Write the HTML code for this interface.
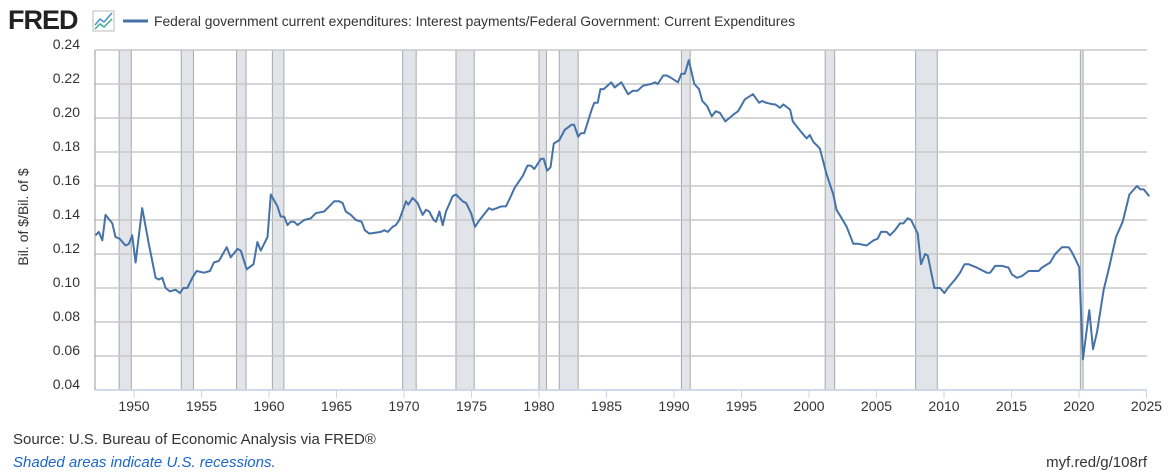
<!DOCTYPE html>
<html><head><meta charset="utf-8">
<style>
body{margin:0;background:#fff;width:1168px;height:473px;overflow:hidden;font-family:"Liberation Sans",sans-serif;}
svg{display:block}
</style></head>
<body>
<svg width="1168" height="473" xmlns="http://www.w3.org/2000/svg">
<g>
<text x="8" y="29" font-size="27" font-weight="bold" fill="#222" font-family="Liberation Sans, sans-serif" letter-spacing="-1">FRED</text>
<rect x="93" y="11" width="21" height="20" fill="#fff" stroke="#bbb" stroke-width="1"/>
<polyline points="95,25 100,19 104,22 112,13" fill="none" stroke="#4a90d9" stroke-width="1.5"/>
<polyline points="95,29 100,24 104,27 112,19" fill="none" stroke="#3bb08f" stroke-width="1.5"/>
</g>
<g>
<line x1="123" y1="21" x2="148" y2="21" stroke="#4572a7" stroke-width="3"/>
<text x="154" y="26" font-size="14" fill="#333" textLength="641" lengthAdjust="spacingAndGlyphs">Federal government current expenditures: Interest payments/Federal Government: Current Expenditures</text>
</g>
<g id="recessions"></g>
<g id="grid"></g>
<g id="yticks"></g>
<g id="xticks"></g>
<text x="28" y="217" font-size="14" fill="#333" text-anchor="middle" transform="rotate(-90 28 217)">Bil. of $/Bil. of $</text>
<path id="series" fill="none" stroke="#4572a7" stroke-width="2" stroke-linejoin="round"/>
<text x="13" y="444" font-size="15" fill="#333">Source: U.S. Bureau of Economic Analysis via FRED®</text>
<text x="13" y="467" font-size="15" fill="#1a66cc" font-style="italic">Shaded areas indicate U.S. recessions.</text>
<text x="1147" y="467" font-size="15" fill="#333" text-anchor="end">myf.red/g/108rf</text>
</svg>
<script>
const years=[1947.15,1947.39,1947.65,1947.89,1948.39,1948.63,1948.93,1949.37,1949.62,1949.87,1950.12,1950.61,1951.1,1951.6,1951.84,1952.1,1952.34,1952.66,1953.08,1953.4,1953.65,1953.95,1954.32,1954.64,1955.18,1955.63,1955.92,1956.3,1956.87,1957.16,1957.66,1957.91,1958.35,1958.85,1959.14,1959.39,1959.89,1960.13,1960.63,1960.87,1961.12,1961.37,1961.61,1961.86,1962.11,1962.6,1963.1,1963.47,1964.08,1964.46,1964.83,1965.2,1965.45,1965.69,1966.07,1966.44,1966.86,1967.1,1967.42,1968.29,1968.54,1968.79,1969.16,1969.4,1969.65,1970.15,1970.32,1970.64,1971.01,1971.38,1971.63,1971.87,1972.2,1972.37,1972.62,1972.87,1973.11,1973.61,1973.85,1974.35,1974.6,1974.97,1975.26,1975.6,1976.3,1976.55,1977.2,1977.55,1977.8,1978.2,1978.8,1979.15,1979.4,1979.65,1980.15,1980.35,1980.6,1980.85,1981.1,1981.5,1981.9,1982.4,1982.6,1982.9,1983.1,1983.35,1983.55,1983.9,1984.1,1984.35,1984.55,1984.8,1985.35,1985.6,1986.1,1986.6,1986.95,1987.3,1987.7,1988.3,1988.6,1988.8,1989.2,1989.45,1989.7,1990.3,1990.55,1990.8,1991.1,1991.5,1991.85,1992.1,1992.45,1992.8,1993.1,1993.4,1993.8,1994.4,1994.75,1995.25,1995.85,1996.3,1996.55,1996.8,1997.35,1997.5,1997.85,1998.1,1998.6,1998.8,1999.1,1999.4,1999.82,2000.06,2000.32,2000.81,2001.3,2001.8,2002.04,2002.42,2002.79,2003.28,2003.65,2004.27,2004.77,2005.09,2005.33,2005.75,2006.0,2006.37,2006.74,2006.99,2007.31,2007.56,2007.81,2008.05,2008.3,2008.6,2008.8,2009.29,2009.71,2010.03,2010.28,2010.82,2011.19,2011.52,2011.81,2012.43,2013.17,2013.42,2013.79,2014.28,2014.78,2015.03,2015.4,2015.77,2016.27,2017.01,2017.25,2017.87,2018.24,2018.74,2019.23,2019.48,2019.85,2020.02,2020.29,2020.76,2021.04,2021.33,2021.83,2022.2,2022.74,2023.24,2023.73,2024.3,2024.55,2024.8,2025.2];
const values=[0.131,0.133,0.128,0.143,0.138,0.130,0.129,0.125,0.126,0.131,0.115,0.147,0.126,0.106,0.105,0.106,0.100,0.098,0.099,0.097,0.100,0.100,0.106,0.110,0.109,0.110,0.115,0.116,0.124,0.118,0.123,0.122,0.111,0.114,0.127,0.122,0.130,0.155,0.148,0.142,0.142,0.137,0.139,0.139,0.137,0.140,0.141,0.144,0.145,0.148,0.151,0.151,0.150,0.145,0.143,0.140,0.139,0.134,0.132,0.133,0.134,0.133,0.136,0.137,0.140,0.151,0.149,0.153,0.150,0.143,0.146,0.145,0.140,0.139,0.145,0.137,0.145,0.154,0.155,0.151,0.150,0.144,0.136,0.140,0.147,0.146,0.148,0.148,0.152,0.159,0.166,0.172,0.172,0.170,0.176,0.176,0.169,0.171,0.185,0.187,0.193,0.196,0.196,0.189,0.191,0.191,0.196,0.205,0.209,0.209,0.217,0.217,0.221,0.218,0.221,0.214,0.216,0.216,0.219,0.220,0.221,0.220,0.225,0.225,0.224,0.221,0.226,0.226,0.234,0.220,0.217,0.210,0.207,0.201,0.204,0.203,0.198,0.202,0.204,0.211,0.214,0.209,0.210,0.209,0.208,0.208,0.206,0.208,0.205,0.198,0.195,0.192,0.188,0.190,0.186,0.182,0.167,0.155,0.146,0.141,0.136,0.126,0.126,0.125,0.128,0.129,0.133,0.133,0.131,0.134,0.138,0.138,0.141,0.140,0.136,0.132,0.114,0.120,0.119,0.100,0.100,0.097,0.100,0.105,0.109,0.114,0.114,0.112,0.109,0.109,0.113,0.113,0.112,0.108,0.106,0.107,0.110,0.110,0.112,0.115,0.120,0.124,0.124,0.121,0.115,0.112,0.058,0.087,0.064,0.074,0.099,0.111,0.130,0.139,0.155,0.160,0.158,0.158,0.154];
const recStart=[1948.9,1953.5,1957.6,1960.25,1969.9,1973.85,1980.0,1981.5,1990.55,2001.2,2007.9,2020.1];
const recEnd=[1949.8,1954.4,1958.3,1961.1,1970.9,1975.2,1980.55,1982.9,1991.2,2001.9,2009.5,2020.3];
const yTicks=[0.04,0.06,0.08,0.10,0.12,0.14,0.16,0.18,0.20,0.22,0.24];
const xTicks=[1950,1955,1960,1965,1970,1975,1980,1985,1990,1995,2000,2005,2010,2015,2020,2025];
const L=95,R=1147;
function X(t){return 134+(t-1950)*13.5;}
function Y(v){return 390-(v-0.04)*1700;}
const NS="http://www.w3.org/2000/svg";
function mk(tag,attrs,parent){const e=document.createElementNS(NS,tag);for(const k in attrs)e.setAttribute(k,attrs[k]);parent.appendChild(e);return e;}
const rg=document.getElementById('recessions');
recStart.forEach((s,i)=>{
 const x1=Math.max(L,X(s)),x2=X(recEnd[i]);
 const r=mk('rect',{x:x1,y:Y(0.24),width:x2-x1,height:Y(0.04)-Y(0.24),fill:'#e1e5ea',stroke:'#a8a8a8','stroke-width':1},rg);
 
 
});
const g=document.getElementById('grid');
yTicks.forEach(v=>{
 const l=mk('line',{x1:L,x2:R,y1:Y(v),y2:Y(v),stroke:'#c8c8c8','stroke-width':1.5},g);
 
 
});
const ax=mk('line',{x1:L,x2:R,y1:390,y2:390,stroke:'#ccd6eb','stroke-width':1.5},g);


const lax=mk('line',{x1:L,x2:L,y1:Y(0.24),y2:390,stroke:'#999','stroke-width':1},g);


const yt=document.getElementById('yticks');
yTicks.forEach(v=>{
 const t=mk('text',{x:80,y:Y(v)-1,'font-size':14,fill:'#333','text-anchor':'end'},yt);
 t.textContent=v.toFixed(2);
 
 
});
const xt=document.getElementById('xticks');
xTicks.forEach(y=>{
 const tk=mk('line',{x1:X(y),x2:X(y),y1:390,y2:398,stroke:'#ccd6eb','stroke-width':1},xt);
 
 
 const t=mk('text',{x:X(y),y:411,'font-size':14,fill:'#333','text-anchor':'middle'},xt);
 t.textContent=y;
 
 
});
let d='';
years.forEach((t,i)=>{d+=(i?'L':'M')+X(t).toFixed(1)+','+Y(values[i]).toFixed(1);});
document.getElementById('series').setAttribute('d',d);
</script>
</body></html>
